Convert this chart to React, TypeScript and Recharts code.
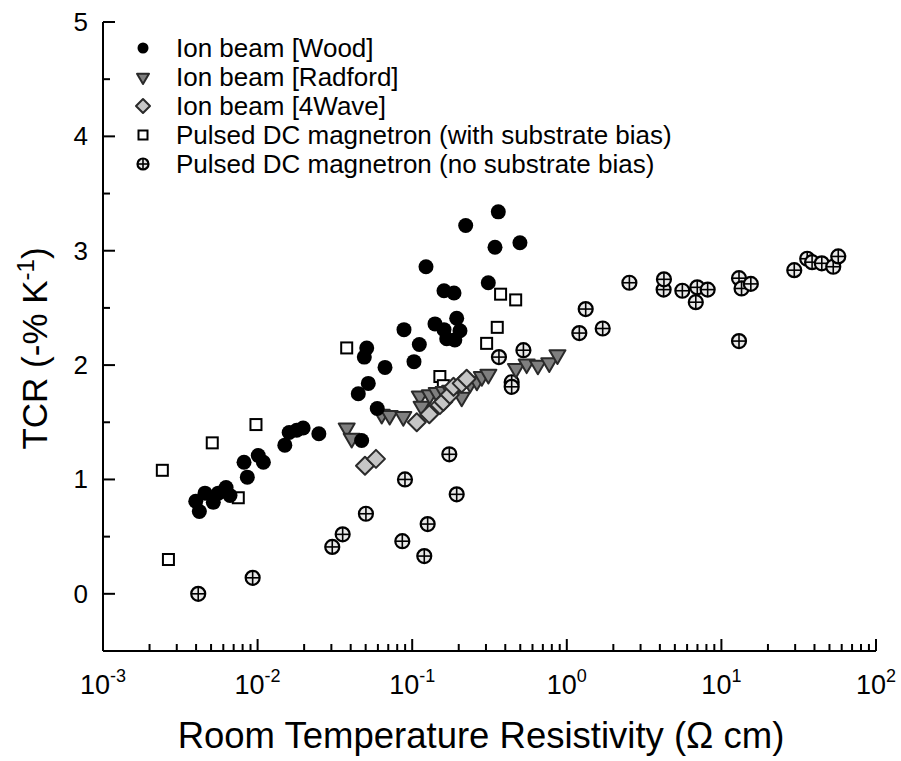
import { ScatterChart, Scatter, XAxis, YAxis, Legend } from "recharts";

const FONT = '"Liberation Sans", Arial, sans-serif';

// chart frame
const W = 900;
const H = 760;
const M_TOP = 22;
const M_RIGHT = 24;
const Y_W = 103;
const X_H = 109;
const PLOT_LEFT = Y_W;
const PLOT_RIGHT = W - M_RIGHT;
const PLOT_TOP = M_TOP;
const PLOT_BOTTOM = H - X_H;

// axis ticks
const xMajor = [0.001, 0.01, 0.1, 1, 10, 100];
const yMajor = [0, 1, 2, 3, 4, 5];
const yTicks = [-0.5, 0, 0.5, 1, 1.5, 2, 2.5, 3, 3.5, 4, 4.5, 5];

const seriesNames = [
    "Ion beam [Wood]",
    "Ion beam [Radford]",
    "Ion beam [4Wave]",
    "Pulsed DC magnetron (with substrate bias)",
    "Pulsed DC magnetron (no substrate bias)",
];

// resistivity (ohm cm) / TCR (-% per K)
const woodRes = [0.00398, 0.0042, 0.00457, 0.00517, 0.00557, 0.00625, 0.00663, 0.00817, 0.00858, 0.0101, 0.0109, 0.015, 0.016, 0.0179, 0.0197, 0.0249, 0.0448, 0.049, 0.0508, 0.052, 0.0471, 0.0594, 0.0667, 0.0885, 0.1027, 0.1112, 0.1228, 0.1404, 0.1606, 0.1606, 0.1864, 0.194, 0.2037, 0.1672, 0.1887, 0.2218, 0.3106, 0.3432, 0.3605, 0.4977];
const woodTcr = [0.81, 0.72, 0.88, 0.8, 0.88, 0.93, 0.86, 1.15, 1.02, 1.21, 1.15, 1.3, 1.41, 1.43, 1.45, 1.4, 1.75, 2.07, 2.15, 1.84, 1.34, 1.62, 1.98, 2.31, 2.03, 2.18, 2.86, 2.36, 2.31, 2.65, 2.63, 2.41, 2.3, 2.23, 2.22, 3.22, 2.72, 3.03, 3.34, 3.07];

const radfordRes = [0.0377, 0.0406, 0.0635, 0.0715, 0.0876, 0.112, 0.115, 0.13, 0.144, 0.16, 0.176, 0.195, 0.209, 0.237, 0.262, 0.282, 0.311, 0.469, 0.55, 0.65, 0.77, 0.87];
const radfordTcr = [1.44, 1.35, 1.56, 1.55, 1.54, 1.72, 1.63, 1.73, 1.75, 1.76, 1.77, 1.8, 1.71, 1.83, 1.85, 1.89, 1.91, 1.96, 2.0, 1.99, 2.01, 2.08];

const waveRes = [0.0495, 0.0583, 0.107, 0.129, 0.151, 0.159, 0.175, 0.185, 0.209, 0.225];
const waveTcr = [1.12, 1.18, 1.5, 1.57, 1.65, 1.68, 1.74, 1.81, 1.84, 1.88];

const biasRes = [0.00242, 0.00265, 0.00509, 0.0075, 0.00976, 0.0377, 0.151, 0.159, 0.303, 0.355, 0.373, 0.467];
const biasTcr = [1.08, 0.3, 1.32, 0.84, 1.48, 2.15, 1.9, 1.82, 2.19, 2.33, 2.62, 2.57];

const noBiasRes = [0.00413, 0.00929, 0.0304, 0.0355, 0.0502, 0.0863, 0.0898, 0.1197, 0.1259, 0.1738, 0.194, 0.364, 0.44, 0.44, 0.524, 1.205, 1.325, 1.707, 2.54, 4.23, 4.25, 5.59, 6.83, 6.98, 8.15, 13.0, 13.5, 15.5, 13.0, 29.6, 35.9, 38.6, 44.6, 52.9, 57.0];
const noBiasTcr = [0.0, 0.14, 0.41, 0.52, 0.7, 0.46, 1.0, 0.33, 0.61, 1.22, 0.87, 2.07, 1.85, 1.81, 2.13, 2.28, 2.49, 2.32, 2.72, 2.66, 2.75, 2.65, 2.55, 2.68, 2.66, 2.76, 2.67, 2.71, 2.21, 2.83, 2.93, 2.9, 2.89, 2.86, 2.95];

const pts = (xs: number[], ys: number[]) => xs.map((x, i) => ({ x, y: ys[i] }));

const xTicks: number[] = [];
xMajor.forEach((m, i) => {
    xTicks.push(m);
    if (i < xMajor.length - 1) {
        for (let k = 2; k <= 9; k++) xTicks.push(+(m * k).toPrecision(3));
    }
});

const isMajorX = (v: number) => xMajor.some((m) => Math.abs(Math.log10(v) - Math.log10(m)) < 1e-6);
const isMajorY = (v: number) => yMajor.includes(v);

const MAJOR_LEN = 12;
const MINOR_LEN = 7;

// markers
const Dot = ({ cx, cy, r = 7.5 }: any) => <circle cx={cx} cy={cy} r={r} fill="#000" />;
const Tri = ({ cx, cy, s = 8 }: any) => (
    <polygon
        points={`${cx - s},${cy - s * 0.7} ${cx + s},${cy - s * 0.7} ${cx},${cy + s}`}
        fill="#7f7f7f"
        stroke="#2a2a2a"
        strokeWidth={2}
        strokeLinejoin="round"
    />
);
const Diamond = ({ cx, cy, s = 9 }: any) => (
    <polygon
        points={`${cx},${cy - s} ${cx + s},${cy} ${cx},${cy + s} ${cx - s},${cy}`}
        fill="#c6c6c6"
        stroke="#2a2a2a"
        strokeWidth={2}
        strokeLinejoin="round"
    />
);
const Square = ({ cx, cy, s = 5.5 }: any) => (
    <rect x={cx - s} y={cy - s} width={s * 2} height={s * 2} fill="#fff" stroke="#000" strokeWidth={2} />
);
const Cross = ({ cx, cy, r = 7 }: any) => (
    <g>
        <circle cx={cx} cy={cy} r={r} fill="#e8e8e8" stroke="#000" strokeWidth={2.2} />
        <line x1={cx - r} x2={cx + r} y1={cy} y2={cy} stroke="#000" strokeWidth={1.6} />
        <line x1={cx} x2={cx} y1={cy - r} y2={cy + r} stroke="#000" strokeWidth={1.6} />
    </g>
);

// inward ticks, labels outside
const BottomTick = ({ x, payload }: any) => {
    const major = isMajorX(payload.value);
    const exp = Math.round(Math.log10(payload.value));
    return (
        <g>
            <line x1={x} x2={x} y1={PLOT_BOTTOM} y2={PLOT_BOTTOM - (major ? MAJOR_LEN : MINOR_LEN)} stroke="#000" strokeWidth={2} />
            {major && (
                <text x={x} y={PLOT_BOTTOM + 43} textAnchor="middle" fontSize={27} fontFamily={FONT} fill="#000">
                    10<tspan dy={-12} fontSize={18}>{exp}</tspan>
                </text>
            )}
        </g>
    );
};

const TopTick = ({ x, payload }: any) => {
    const major = isMajorX(payload.value);
    return <line x1={x} x2={x} y1={PLOT_TOP} y2={PLOT_TOP + (major ? MAJOR_LEN : MINOR_LEN)} stroke="#000" strokeWidth={2} />;
};

const LeftTick = ({ y, payload }: any) => {
    const major = isMajorY(payload.value);
    return (
        <g>
            <line x1={PLOT_LEFT} x2={PLOT_LEFT + (major ? MAJOR_LEN : MINOR_LEN)} y1={y} y2={y} stroke="#000" strokeWidth={2} />
            {major && (
                <text x={PLOT_LEFT - 15} y={y} dy={9} textAnchor="end" fontSize={26} fontFamily={FONT} fill="#000">
                    {payload.value}
                </text>
            )}
        </g>
    );
};

const RightTick = ({ y, payload }: any) => {
    const major = isMajorY(payload.value);
    return <line x1={PLOT_RIGHT} x2={PLOT_RIGHT - (major ? MAJOR_LEN : MINOR_LEN)} y1={y} y2={y} stroke="#000" strokeWidth={2} />;
};

const XTitle = () => (
    <text x={481} y={748} textAnchor="middle" fontSize={36.5} fontFamily={FONT} fill="#000">
        Room Temperature Resistivity (Ω cm)
    </text>
);

const YTitle = () => {
    const cx = 47;
    const cy = (PLOT_TOP + PLOT_BOTTOM) / 2 + 12;
    return (
        <text x={cx} y={cy} transform={`rotate(-90, ${cx}, ${cy})`} textAnchor="middle" fontSize={35} fontFamily={FONT} fill="#000">
            TCR (-% K<tspan dy={-13} fontSize={24}>-1</tspan><tspan dy={13}>)</tspan>
        </text>
    );
};

const legendMarkers = [
    (cx: number, cy: number) => <Dot cx={cx} cy={cy} r={5.5} />,
    (cx: number, cy: number) => <Tri cx={cx} cy={cy + 1} s={6} />,
    (cx: number, cy: number) => <Diamond cx={cx} cy={cy} s={7} />,
    (cx: number, cy: number) => <Square cx={cx} cy={cy} s={4.5} />,
    (cx: number, cy: number) => <Cross cx={cx} cy={cy} r={5.5} />,
];

const LegendBox = () => (
    <svg width={580} height={150}>
        {seriesNames.map((name, i) => (
            <g key={name}>
                {legendMarkers[i](15, 16 + i * 29)}
                <text x={48} y={16 + i * 29 + 9} fontSize={26} fontFamily={FONT} fill="#000">
                    {name}
                </text>
            </g>
        ))}
    </svg>
);

export default function App() {
    return (
        <div style={{ position: "absolute", left: 0, top: 0, width: W, height: H, background: "#fff", fontFamily: FONT }}>
            <ScatterChart width={W} height={H} margin={{ top: M_TOP, right: M_RIGHT, bottom: 0, left: 0 }}>
                <XAxis
                    xAxisId="x"
                    dataKey="x"
                    type="number"
                    scale="log"
                    domain={[0.001, 100]}
                    allowDataOverflow
                    ticks={xTicks}
                    interval={0}
                    height={X_H}
                    tickSize={0}
                    tickMargin={0}
                    tickLine={false}
                    tick={BottomTick}
                    axisLine={{ stroke: "#000", strokeWidth: 2 }}
                    label={{ content: XTitle }}
                />
                <XAxis
                    xAxisId="top"
                    orientation="top"
                    type="number"
                    scale="log"
                    domain={[0.001, 100]}
                    allowDataOverflow
                    ticks={xTicks}
                    interval={0}
                    height={0}
                    tickSize={0}
                    tickMargin={0}
                    tickLine={false}
                    tick={TopTick}
                    axisLine={{ stroke: "#000", strokeWidth: 2 }}
                />
                <YAxis
                    yAxisId="y"
                    dataKey="y"
                    type="number"
                    domain={[-0.5, 5]}
                    allowDataOverflow
                    ticks={yTicks}
                    interval={0}
                    width={Y_W}
                    tickSize={0}
                    tickMargin={0}
                    tickLine={false}
                    tick={LeftTick}
                    axisLine={{ stroke: "#000", strokeWidth: 2 }}
                    label={{ content: YTitle }}
                />
                <YAxis
                    yAxisId="right"
                    orientation="right"
                    type="number"
                    domain={[-0.5, 5]}
                    allowDataOverflow
                    ticks={yTicks}
                    interval={0}
                    width={0}
                    tickSize={0}
                    tickMargin={0}
                    tickLine={false}
                    tick={RightTick}
                    axisLine={{ stroke: "#000", strokeWidth: 2 }}
                />
                <Legend
                    layout="vertical"
                    align="center"
                    verticalAlign="middle"
                    wrapperStyle={{ top: 32, left: 128, width: 580 }}
                    content={LegendBox}
                />
                <Scatter name={seriesNames[4]} xAxisId="x" yAxisId="y" data={pts(noBiasRes, noBiasTcr)} shape={Cross} isAnimationActive={false} />
                <Scatter name={seriesNames[3]} xAxisId="x" yAxisId="y" data={pts(biasRes, biasTcr)} shape={Square} isAnimationActive={false} />
                <Scatter name={seriesNames[1]} xAxisId="x" yAxisId="y" data={pts(radfordRes, radfordTcr)} shape={Tri} isAnimationActive={false} />
                <Scatter name={seriesNames[2]} xAxisId="x" yAxisId="y" data={pts(waveRes, waveTcr)} shape={Diamond} isAnimationActive={false} />
                <Scatter name={seriesNames[0]} xAxisId="x" yAxisId="y" data={pts(woodRes, woodTcr)} shape={Dot} isAnimationActive={false} />
            </ScatterChart>
        </div>
    );
}
